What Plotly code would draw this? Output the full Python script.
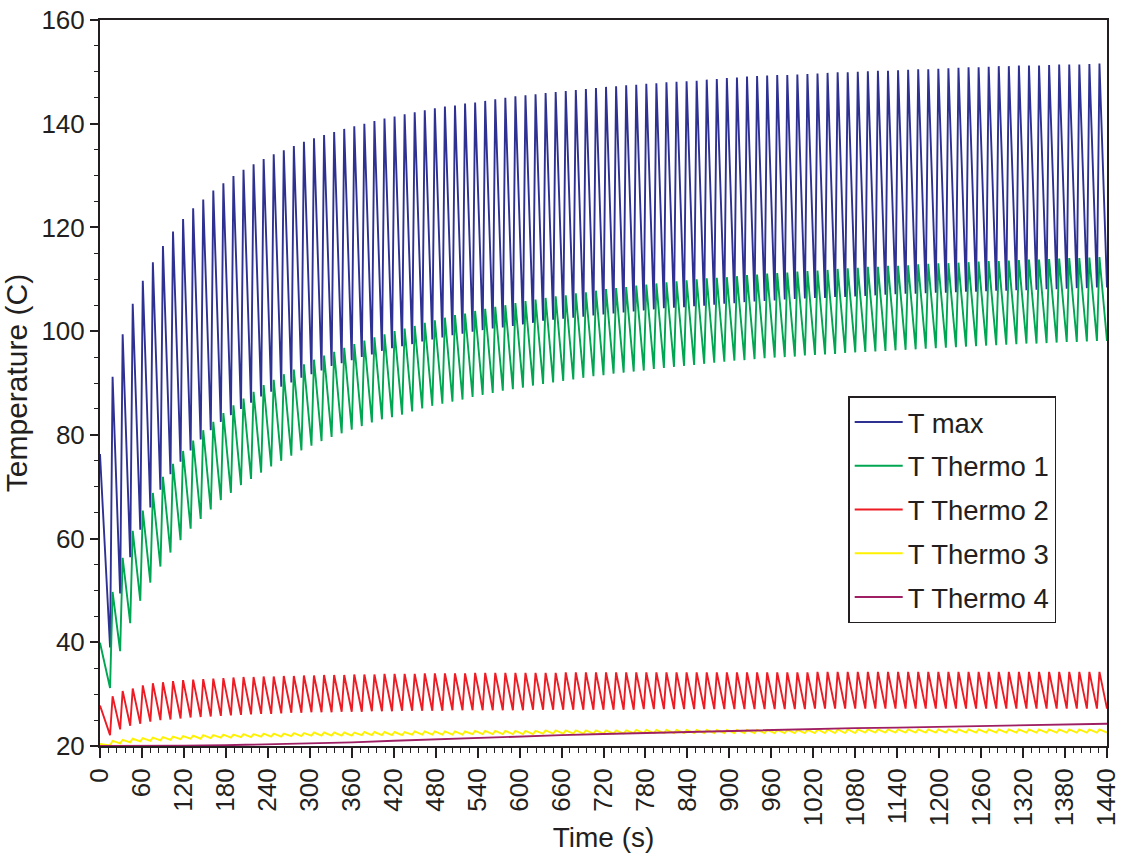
import plotly.graph_objects as go

# ---------------- data ----------------
PERIOD = 14.4      # s, one heating cycle
RISE = 3.6         # s, trough -> peak within a cycle

series_names = ["T max", "T Thermo 1", "T Thermo 2", "T Thermo 3", "T Thermo 4"]
series_colors = ["#2E3192", "#00A651", "#ED1C24", "#FFF200", "#9E1F63"]

tmax_start = 76.3
tmax_peak = [
    91.2, 99.4, 105.3, 109.7, 113.3, 116.4, 119.2, 121.6, 123.7, 125.4,
    127.1, 128.5, 129.9, 131.1, 132.2, 133.2, 134.1, 134.9, 135.7, 136.5,
    137.2, 137.8, 138.4, 139.0, 139.5, 140.0, 140.5, 141.0, 141.4, 141.8,
    142.2, 142.6, 143.0, 143.3, 143.5, 143.9, 144.1, 144.4, 144.7, 145.0,
    145.3, 145.5, 145.7, 145.9, 146.1, 146.3, 146.5, 146.7, 146.9, 147.1,
    147.2, 147.4, 147.5, 147.7, 147.8, 148.0, 148.1, 148.2, 148.3, 148.5,
    148.6, 148.8, 148.9, 149.1, 149.2, 149.3, 149.4, 149.4, 149.5, 149.6,
    149.7, 149.8, 149.9, 149.9, 150.0, 150.1, 150.2, 150.2, 150.3, 150.4,
    150.5, 150.5, 150.6, 150.7, 150.8, 150.9, 150.9, 151.0, 151.1, 151.1,
    151.2, 151.2, 151.2, 151.3, 151.4, 151.4, 151.4, 151.5, 151.6]
tmax_trough = [
    39.0, 49.4, 56.4, 61.7, 66.0, 69.4, 72.4, 74.8, 77.0, 79.1,
    80.9, 82.5, 83.8, 85.0, 86.2, 87.4, 88.3, 89.3, 90.1, 91.0,
    91.7, 92.4, 93.3, 93.8, 94.4, 95.0, 95.5, 96.2, 96.7, 97.1,
    97.5, 98.0, 98.4, 98.8, 99.2, 99.5, 99.9, 100.2, 100.5, 100.7,
    101.0, 101.3, 101.6, 102.0, 102.2, 102.4, 102.6, 102.8, 103.0, 103.2,
    103.4, 103.6, 103.8, 104.0, 104.2, 104.4, 104.5, 104.6, 104.8, 104.9,
    105.1, 105.3, 105.4, 105.6, 105.7, 105.8, 105.9, 106.1, 106.2, 106.3,
    106.4, 106.4, 106.6, 106.6, 106.7, 106.8, 106.9, 107.0, 107.1, 107.2,
    107.2, 107.3, 107.4, 107.4, 107.5, 107.6, 107.6, 107.7, 107.8, 107.8,
    107.9, 107.9, 108.0, 108.1, 108.1, 108.2, 108.3, 108.3, 108.4, 108.4]

thermo1_start = 39.9
thermo1_peak = [
    49.7, 56.3, 61.5, 65.4, 68.8, 71.9, 74.4, 76.9, 78.9, 80.9,
    82.5, 84.2, 85.7, 87.0, 88.3, 89.6, 90.6, 91.7, 92.6, 93.6,
    94.5, 95.3, 96.0, 96.8, 97.5, 98.2, 98.8, 99.4, 100.0, 100.5,
    101.0, 101.6, 102.1, 102.6, 103.1, 103.4, 103.9, 104.3, 104.7, 105.0,
    105.4, 105.8, 106.1, 106.4, 106.7, 106.9, 107.3, 107.5, 107.8, 108.1,
    108.3, 108.5, 108.8, 109.0, 109.2, 109.4, 109.6, 109.8, 110.0, 110.2,
    110.3, 110.4, 110.6, 110.8, 110.9, 111.1, 111.2, 111.3, 111.5, 111.6,
    111.7, 111.8, 112.0, 112.1, 112.2, 112.4, 112.4, 112.6, 112.6, 112.7,
    112.9, 113.0, 113.1, 113.1, 113.2, 113.3, 113.4, 113.5, 113.5, 113.6,
    113.7, 113.8, 113.8, 113.9, 114.0, 114.1, 114.1, 114.2, 114.3]
thermo1_trough = [
    31.2, 38.3, 43.7, 48.0, 51.5, 54.6, 57.3, 59.7, 61.9, 63.8,
    65.6, 67.4, 68.8, 70.3, 71.5, 72.7, 73.9, 75.0, 76.0, 77.0,
    77.9, 78.8, 79.6, 80.3, 81.0, 81.7, 82.4, 83.0, 83.4, 83.9,
    84.5, 85.1, 85.6, 86.0, 86.4, 86.8, 87.3, 87.7, 88.1, 88.5,
    88.8, 89.1, 89.5, 89.8, 90.1, 90.4, 90.7, 91.0, 91.3, 91.5,
    91.8, 92.0, 92.2, 92.4, 92.7, 92.9, 93.1, 93.3, 93.5, 93.7,
    93.9, 94.1, 94.3, 94.4, 94.6, 94.8, 94.9, 95.0, 95.1, 95.3,
    95.4, 95.5, 95.6, 95.8, 95.9, 96.0, 96.1, 96.2, 96.3, 96.4,
    96.5, 96.6, 96.7, 96.8, 96.9, 97.0, 97.1, 97.2, 97.3, 97.4,
    97.5, 97.6, 97.6, 97.7, 97.8, 97.9, 97.9, 98.0, 98.1, 98.1]

thermo2_start = 27.8
thermo2_peak = [
    29.6, 30.6, 31.1, 31.7, 32.1, 32.3, 32.5, 32.7, 32.8, 32.9,
    33.0, 33.1, 33.2, 33.3, 33.3, 33.4, 33.4, 33.5, 33.5, 33.6,
    33.6, 33.7, 33.7, 33.7, 33.8, 33.8, 33.8, 33.9, 33.9, 33.9,
    33.9, 34.0, 34.0, 34.0, 34.0, 34.0, 34.1, 34.1, 34.1, 34.1,
    34.1, 34.1, 34.1, 34.1, 34.1, 34.2, 34.2, 34.2, 34.2, 34.2,
    34.2, 34.2, 34.2, 34.2, 34.2, 34.2, 34.2, 34.2, 34.2, 34.2,
    34.2, 34.2, 34.2, 34.2, 34.2, 34.2, 34.2, 34.2, 34.2, 34.2,
    34.3, 34.3, 34.3, 34.3, 34.3, 34.3, 34.3, 34.3, 34.3, 34.3,
    34.3, 34.3, 34.3, 34.3, 34.3, 34.3, 34.3, 34.3, 34.3, 34.3,
    34.3, 34.3, 34.3, 34.3, 34.3, 34.3, 34.3, 34.3, 34.3]
thermo2_trough = [
    22.1, 23.2, 23.9, 24.3, 24.7, 25.0, 25.1, 25.3, 25.5, 25.6,
    25.7, 25.8, 25.9, 26.0, 26.1, 26.2, 26.2, 26.3, 26.4, 26.4,
    26.5, 26.5, 26.5, 26.6, 26.6, 26.6, 26.7, 26.7, 26.7, 26.8,
    26.8, 26.8, 26.8, 26.8, 26.9, 26.9, 26.9, 26.9, 26.9, 26.9,
    26.9, 26.9, 27.0, 27.0, 27.0, 27.0, 27.0, 27.0, 27.0, 27.0,
    27.0, 27.0, 27.0, 27.1, 27.1, 27.1, 27.1, 27.1, 27.1, 27.1,
    27.1, 27.1, 27.1, 27.1, 27.1, 27.1, 27.1, 27.1, 27.1, 27.1,
    27.2, 27.2, 27.2, 27.2, 27.2, 27.2, 27.2, 27.2, 27.2, 27.2,
    27.2, 27.2, 27.2, 27.2, 27.2, 27.2, 27.2, 27.2, 27.2, 27.2,
    27.2, 27.2, 27.2, 27.2, 27.2, 27.2, 27.2, 27.2, 27.2, 27.2]

thermo3_start = 20.4
thermo3_peak = [
    21.0, 21.2, 21.4, 21.5, 21.6, 21.7, 21.8, 21.9, 22.0, 22.1,
    22.1, 22.2, 22.2, 22.3, 22.3, 22.4, 22.4, 22.4, 22.5, 22.5,
    22.6, 22.6, 22.6, 22.6, 22.6, 22.7, 22.7, 22.7, 22.7, 22.7,
    22.8, 22.8, 22.8, 22.8, 22.8, 22.8, 22.9, 22.9, 22.9, 22.9,
    22.9, 22.9, 22.9, 23.0, 23.0, 23.0, 23.0, 23.0, 23.0, 23.0,
    23.0, 23.0, 23.1, 23.1, 23.1, 23.1, 23.1, 23.1, 23.1, 23.1,
    23.1, 23.1, 23.1, 23.1, 23.1, 23.1, 23.1, 23.1, 23.1, 23.1,
    23.2, 23.2, 23.2, 23.2, 23.2, 23.2, 23.2, 23.2, 23.2, 23.2,
    23.2, 23.2, 23.2, 23.2, 23.2, 23.2, 23.2, 23.2, 23.2, 23.2,
    23.2, 23.2, 23.2, 23.2, 23.2, 23.2, 23.2, 23.2, 23.2]
thermo3_trough = [
    20.1, 20.5, 20.7, 20.9, 21.0, 21.1, 21.2, 21.3, 21.4, 21.4,
    21.5, 21.6, 21.6, 21.7, 21.7, 21.8, 21.8, 21.8, 21.9, 21.9,
    22.0, 22.0, 22.0, 22.0, 22.0, 22.1, 22.1, 22.1, 22.1, 22.1,
    22.2, 22.2, 22.2, 22.2, 22.2, 22.2, 22.3, 22.3, 22.3, 22.3,
    22.3, 22.3, 22.3, 22.4, 22.4, 22.4, 22.4, 22.4, 22.4, 22.4,
    22.4, 22.4, 22.5, 22.5, 22.5, 22.5, 22.5, 22.5, 22.5, 22.5,
    22.5, 22.5, 22.5, 22.5, 22.5, 22.5, 22.5, 22.5, 22.5, 22.5,
    22.5, 22.5, 22.5, 22.5, 22.5, 22.6, 22.6, 22.6, 22.6, 22.6,
    22.6, 22.6, 22.6, 22.6, 22.6, 22.6, 22.6, 22.6, 22.6, 22.6,
    22.6, 22.6, 22.6, 22.6, 22.6, 22.6, 22.6, 22.6, 22.6, 22.6]

thermo4_time = [0, 60, 120, 180, 240, 300, 360, 420, 480, 540, 600, 660, 720,
                780, 840, 900, 960, 1020, 1080, 1140, 1200, 1260, 1320, 1380, 1440]
thermo4_value = [20.0, 20.0, 20.05, 20.15, 20.3, 20.5, 20.7, 21.0, 21.3, 21.6,
                 21.8, 22.1, 22.3, 22.5, 22.75, 22.95, 23.1, 23.3, 23.45, 23.55,
                 23.7, 23.85, 24.0, 24.15, 24.3]

x_tick_values = list(range(0, 1441, 60))
y_tick_values = [20, 40, 60, 80, 100, 120, 140, 160]


def sawtooth(start, troughs, peaks):
    t, v = [0.0], [start]
    for k in range(1, len(troughs) + 1):
        t.append(round(k * PERIOD, 2))
        v.append(troughs[k - 1])
        if k - 1 < len(peaks):
            t.append(round(k * PERIOD + RISE, 2))
            v.append(peaks[k - 1])
    return t, v


curves = [
    sawtooth(tmax_start, tmax_trough, tmax_peak),
    sawtooth(thermo1_start, thermo1_trough, thermo1_peak),
    sawtooth(thermo2_start, thermo2_trough, thermo2_peak),
    sawtooth(thermo3_start, thermo3_trough, thermo3_peak),
    (thermo4_time, thermo4_value),
]

FONT = "Liberation Sans, Arial, Helvetica, sans-serif"
INK = "#231F20"

fig = go.Figure()
for name, color, (tx, ty) in zip(series_names, series_colors, curves):
    fig.add_trace(go.Scatter(
        x=tx, y=ty, mode="lines", name=name, legendgroup=name,
        line=dict(color=color, width=1.9),
    ))

fig.update_layout(
    width=1126, height=862,
    margin=dict(l=100, r=19, t=20, b=116),
    paper_bgcolor="white", plot_bgcolor="white",
    font=dict(family=FONT, size=27, color=INK),
    showlegend=True,
    legend=dict(
        x=0.743, y=0.482, xanchor="left", yanchor="top",
        bgcolor="white", bordercolor=INK, borderwidth=1.5,
        font=dict(family=FONT, size=27.5, color=INK),
        tracegroupgap=5, itemwidth=48,
    ),
)
fig.update_xaxes(
    range=[0, 1440], tickmode="array", tickvals=x_tick_values,
    ticktext=[str(v) for v in x_tick_values],
    tickangle=-90, ticks="outside", ticklen=10, tickwidth=1.5, tickcolor=INK,
    minor=dict(dtick=12, ticks="outside", ticklen=5, tickwidth=1, tickcolor=INK),
    showline=True, linecolor=INK, linewidth=2, mirror=True,
    showgrid=False, zeroline=False, automargin=False,
    tickfont=dict(size=26, color=INK),
    title=dict(text="Time (s)", font=dict(size=28, color=INK), standoff=2),
)
fig.update_yaxes(
    range=[20, 160], tickmode="array", tickvals=y_tick_values,
    ticks="outside", ticklen=8, tickwidth=1.5, tickcolor=INK,
    minor=dict(dtick=5, ticks="outside", ticklen=4, tickwidth=1, tickcolor=INK),
    showline=True, linecolor=INK, linewidth=2, mirror=True,
    showgrid=False, zeroline=False, automargin=False,
    tickfont=dict(size=26, color=INK),
    title=dict(text="Temperature (C)", font=dict(size=30, color=INK), standoff=6),
)

fig.write_html("out.html")
